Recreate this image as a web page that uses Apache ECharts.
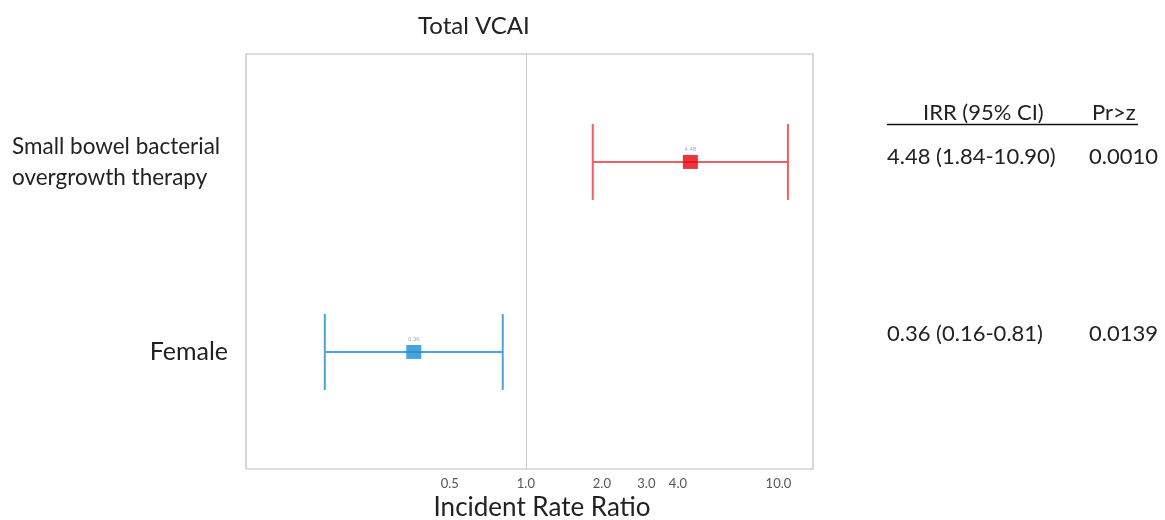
<!DOCTYPE html>
<html><head><meta charset="utf-8">
<script src="https://cdn.jsdelivr.net/npm/echarts@6/dist/echarts.min.js"></script>
<style>html,body{margin:0;padding:0;background:#fff}#c{width:1165px;height:520px}</style>
</head><body><div id="c"></div>
<script>
// ---- data ----
const categories = ['Small bowel bacterial\novergrowth therapy', 'Female'];
const irr = [4.48, 0.36];
const ciLow = [1.84, 0.16];
const ciHigh = [10.90, 0.81];
const pValues = ['0.0010', '0.0139'];
const xTicks = [0.5, 1.0, 2.0, 3.0, 4.0, 10.0];
const tableHeader = ['IRR (95% CI)', 'Pr>z'];

// ---- styles ----
const lineColors = ['#f25f61', '#4aa3dc'];
const markColors = ['#e8000b', '#1a8fd3'];
const FONT = 'Lato, "Open Sans", sans-serif';

const chart = echarts.init(document.getElementById('c'), null, {renderer: 'canvas'});

const rowIdx = categories.map((_, i) => i);
const errData = rowIdx.map(i => [ciLow[i], ciHigh[i], i]);
const ptData = rowIdx.map(i => ({value: [irr[i], i], itemStyle: {color: markColors[i]}}));

const tableRowY = [157, 334];
const graphics = [
  {type: 'text', x: 923, y: 113, style: {text: tableHeader[0], font: '22px ' + FONT, fill: '#222', verticalAlign: 'middle'}},
  {type: 'text', x: 1092, y: 113, style: {text: tableHeader[1], font: '22px ' + FONT, fill: '#222', verticalAlign: 'middle'}},
  {type: 'line', shape: {x1: 887, y1: 124.5, x2: 1138, y2: 124.5}, style: {stroke: '#111', lineWidth: 1.5}},
];
rowIdx.forEach(i => {
  graphics.push({type: 'text', x: 887, y: tableRowY[i], style: {
    text: irr[i].toFixed(2) + ' (' + ciLow[i].toFixed(2) + '-' + ciHigh[i].toFixed(2) + ')',
    font: '22px ' + FONT, fill: '#222', verticalAlign: 'middle'}});
  graphics.push({type: 'text', x: 1089, y: tableRowY[i], style: {
    text: pValues[i], font: '22px ' + FONT, fill: '#222', verticalAlign: 'middle'}});
});

chart.setOption({
  animation: false,
  backgroundColor: '#fff',
  title: {
    text: 'Total VCAI', left: 413, top: 9,
    textStyle: {fontFamily: FONT, fontSize: 24, fontWeight: 'normal', color: '#222'}
  },
  grid: {left: 246, right: 352, top: 54, bottom: 51, outerBoundsMode: 'none', containLabel: false,
         show: true, borderColor: '#bdbdbd', borderWidth: 1.2, backgroundColor: 'transparent'},
  xAxis: {
    type: 'log', logBase: 10, min: 0.078, max: 13.7,
    axisLine: {show: false}, axisTick: {show: false}, splitLine: {show: false},
    axisLabel: {customValues: xTicks, formatter: v => Number(v).toFixed(1), color: '#555', fontSize: 13, fontFamily: FONT, margin: 8},
    name: 'Incident Rate Ratio', nameLocation: 'middle', nameGap: 26,
    nameTextStyle: {fontFamily: FONT, fontSize: 26, color: '#222', padding: [0, 0, 0, 25]}
  },
  yAxis: {
    type: 'value', inverse: true, min: -0.568, max: 1.616,
    axisLine: {show: false}, axisTick: {show: false}, splitLine: {show: false},
    axisLabel: {
      customValues: rowIdx, margin: 18,
      formatter: v => {
        const lines = categories[Math.round(v)].split('\n');
        return lines.length > 1 ? lines.map(s => '{s|' + s + '}').join('\n') : '{f|' + lines[0] + '}';
      },
      rich: {
        s: {fontFamily: FONT, fontSize: 22.5, lineHeight: 31, color: '#222', width: 216, align: 'left'},
        f: {fontFamily: FONT, fontSize: 25, color: '#222'}
      }
    }
  },
  series: [
    {
      type: 'custom', data: errData, encode: {x: [0, 1], y: 2}, z: 2,
      renderItem: (params, api) => {
        const i = params.dataIndex;
        const a = api.coord([api.value(0), api.value(2)]);
        const b = api.coord([api.value(1), api.value(2)]);
        const h = 38;
        const st = {stroke: lineColors[i], lineWidth: 2};
        return {type: 'group', children: [
          {type: 'line', shape: {x1: a[0], y1: a[1], x2: b[0], y2: b[1]}, style: st},
          {type: 'line', shape: {x1: a[0], y1: a[1] - h, x2: a[0], y2: a[1] + h}, style: st},
          {type: 'line', shape: {x1: b[0], y1: b[1] - h, x2: b[0], y2: b[1] + h}, style: st}
        ]};
      }
    },
    {
      type: 'scatter', data: ptData, symbol: 'rect', symbolSize: [15, 14], z: 3,
      label: {show: true, position: 'top', distance: 3, formatter: p => p.value[0].toFixed(2), fontSize: 6, color: '#999'},
      markLine: {
        silent: true, symbol: 'none', label: {show: false},
        lineStyle: {color: '#c8c8c8', width: 1, type: 'solid'},
        data: [{xAxis: 1}]
      }
    }
  ],
  graphic: graphics
});
</script></body></html>
